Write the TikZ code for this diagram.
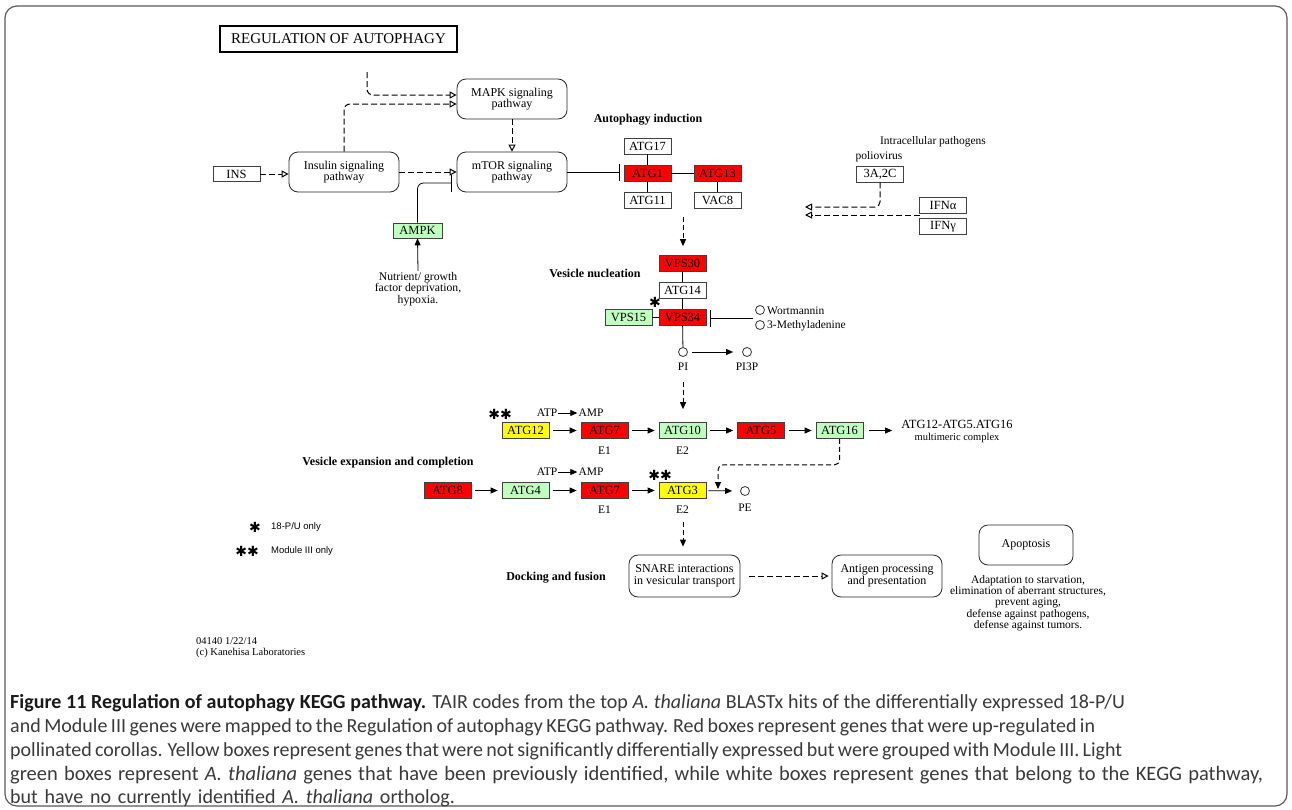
\documentclass[tikz,border=0pt]{standalone}
\usepackage{fontspec}
\setmainfont{Liberation Serif}
\newfontfamily\kegg{Liberation Serif}
\newfontfamily\capfont{Carlito}
\newfontfamily\legfont{Liberation Sans}
\newfontfamily\symfont{DejaVu Sans}
\usetikzlibrary{arrows.meta,calc}
\definecolor{kred}{HTML}{FF0000}
\definecolor{kyel}{HTML}{FFFF00}
\definecolor{kgrn}{HTML}{BFFFBF}
\definecolor{capgray}{HTML}{3A3A3A}
\definecolor{capdark}{HTML}{1A1A1A}
\tikzset{
  gene/.style={draw=black!75, line width=0.7pt, minimum width=47pt, minimum height=16pt, inner sep=0pt, font=\kegg\fontsize{12.5}{12}\selectfont},
  gred/.style={gene, fill=kred},
  gyel/.style={gene, fill=kyel},
  ggrn/.style={gene, fill=kgrn},
  gwht/.style={gene, fill=white},
  pbox/.style={draw=black!85, line width=0.8pt, rounded corners=9pt, minimum width=110pt, minimum height=40pt, inner sep=1pt, align=center, font=\kegg\fontsize{12}{11.5}\selectfont},
  ktext/.style={inner sep=1pt, font=\kegg\fontsize{11.5}{11.5}\selectfont},
  lab/.style={inner sep=1pt, font=\kegg\bfseries\fontsize{12}{12}\selectfont},
  act/.style={line width=0.8pt, -{Triangle[length=7pt,width=6pt]}},
  dact/.style={draw=black, line width=1pt, dash pattern=on 5pt off 3pt, -{Triangle[length=7pt,width=6pt]}},
  oarr/.style={draw=black, line width=1pt, dash pattern=on 6pt off 3pt, -{Triangle[open,length=7pt,width=7pt]}},
  inh/.style={line width=0.8pt, -{Bar[width=17pt,line width=0.9pt]}},
  circ/.style={circle, draw=black!80, line width=0.8pt, minimum size=9pt, inner sep=0pt},
  star/.style={inner sep=0pt, font=\symfont\fontsize{14}{14}\selectfont},
  capline/.style={anchor=base west, inner sep=0pt, text=capgray, font=\capfont\fontsize{20}{22}\selectfont}
}
\begin{document}
\begin{tikzpicture}[x=1pt,y=-1pt]
\useasboundingbox (0,0) rectangle (1292,809);
\fill[white] (0,0) rectangle (1292,809);
\draw[black!65, line width=1.2pt, rounded corners=12pt] (5,6) rectangle (1287,806);

% title
\node[draw, line width=2.4pt, minimum width=237pt, minimum height=26pt, inner sep=0pt, font=\kegg\fontsize{15}{15}\selectfont] (title) at (338.5,39) {REGULATION OF AUTOPHAGY};

% pathways
\node[pbox] (mapk) at (512,99) {MAPK signaling\\pathway};
\node[pbox] (insulin) at (344,172) {Insulin signaling\\pathway};
\node[pbox] (mtor) at (512,172) {mTOR signaling\\pathway};
\node[gwht, minimum height=15pt] (ins) at (236.5,174) {INS};
\coordinate (ext) at (367,72);

\draw[oarr] (ins.east) -- (ins.east -| insulin.west);
\draw[oarr] (insulin.east) -- (mtor.west);
\draw[oarr, rounded corners=6pt] (insulin.north) |- ($(mapk.west)+(0,5)$);
\draw[oarr, rounded corners=6pt] (ext) |- ($(mapk.west)+(0,-4)$);
\draw[oarr] (mapk.south) -- (mtor.north);

% AMPK
\node[ggrn, minimum width=49pt, minimum height=15pt] (ampk) at (417.5,230.5) {AMPK};
\draw[inh, rounded corners=6pt, shorten >=5pt] (ampk.north) |- ($(mtor.west)+(0,11)$);
\node[ktext, align=center, font=\kegg\fontsize{11.7}{11.5}\selectfont] (nutr) at (418,289) {Nutrient/ growth\\factor deprivation,\\hypoxia.};
\draw[act] (nutr.north) -- (ampk.south);

% labels
\node[lab] (lind) at (648,120) {Autophagy induction};
\node[lab] (lnuc) at (595,273) {Vesicle nucleation};
\node[lab] (lexp) at (388,463) {Vesicle expansion and completion};
\node[lab] (ldock) at (556,578) {Docking and fusion};

% induction complex
\node[gwht] (atg17) at (647.5,146) {ATG17};
\node[gred] (atg1) at (647.5,173.5) {ATG1};
\node[gred] (atg13) at (717.5,173.5) {ATG13};
\node[gwht] (atg11) at (647.5,200) {ATG11};
\node[gwht] (vac8) at (717.5,200) {VAC8};
\draw[line width=0.8pt] (atg17) -- (atg1) -- (atg11);
\draw[line width=0.8pt] (atg1) -- (atg13) -- (vac8);
\draw[inh, shorten >=4pt] (mtor.east) -- (mtor.east -| atg1.west);

% pathogens
\node[ktext] (lpath) at (933,142) {Intracellular pathogens};
\node[ktext] (lpolio) at (879,157) {poliovirus};
\node[gwht] (c3a) at (880,174) {3A,2C};
\node[gwht] (ifna) at (943,205) {IFNα};
\node[gwht] (ifng) at (943,226.5) {IFNγ};
\coordinate (pend1) at (805,207);
\coordinate (pend2) at (805,215);
\coordinate (ifnj) at (920,215);
\draw[oarr, rounded corners=5pt] (c3a.south) |- (pend1);
\draw[oarr] (ifnj) -- (pend2);

% nucleation
\coordinate (d1) at (683,217);
\node[gred] (vps30) at (682.5,263.5) {VPS30};
\node[gwht] (atg14) at (682.5,290) {ATG14};
\node[gred] (vps34) at (682.5,317.5) {VPS34};
\node[ggrn] (vps15) at (628.5,317.5) {VPS15};
\draw[dact, shorten >=9pt] (d1) -- (d1 |- vps30.north);
\draw[line width=0.8pt] (vps30) -- (atg14) -- (vps34);
\draw[line width=0.8pt] (vps15) -- (vps34);
\node[star] (ast1) at (655,302) {✱};

\node[circ] (wort) at (760,310) {};
\node[circ] (mad) at (760,325) {};
\node[ktext, anchor=west] (lwort) at (766,311) {Wortmannin};
\node[ktext, anchor=west] (lmad) at (766,326) {3-Methyladenine};
\coordinate (wj) at (753,318);
\draw[inh, shorten >=4pt] (wj) -- (wj -| vps34.east);

\node[circ] (pi) at (683,352) {};
\node[circ] (pi3p) at (747,352) {};
\node[ktext] (lpi) at (683,367) {PI};
\node[ktext] (lpi3p) at (747,367) {PI3P};
\draw[line width=0.8pt] (vps34) -- (pi);
\draw[act, shorten <=4pt, shorten >=9pt] (pi) -- (pi3p);
\coordinate (d2) at (683,382);

% row 1
\node[gyel] (atg12) at (525.5,430.5) {ATG12};
\node[gred] (atg7a) at (604.5,430.5) {ATG7};
\node[ggrn] (atg10) at (682.5,430.5) {ATG10};
\node[gred] (atg5) at (761,430.5) {ATG5};
\node[ggrn] (atg16) at (839.5,430.5) {ATG16};
\node[ktext, align=center, inner sep=0pt, font=\kegg\fontsize{12.5}{12}\selectfont] (cplx) at (957,431) {ATG12-ATG5.ATG16\\{\fontsize{10.5}{10}\selectfont multimeric complex}};
\draw[dact, shorten >=13pt] (d2) -- (d2 |- atg10.north);
\draw[act, shorten <=4pt, shorten >=4pt] (atg12) -- (atg7a);
\draw[act, shorten <=4pt, shorten >=4pt] (atg7a) -- (atg10);
\draw[act, shorten <=4pt, shorten >=4pt] (atg10) -- (atg5);
\draw[act, shorten <=4pt, shorten >=4pt] (atg5) -- (atg16);
\draw[act, shorten <=6pt, shorten >=9pt] (atg16) -- (atg16 -| cplx.west);
\node[ktext] (atp1) at (547,413) {ATP};
\node[ktext] (amp1) at (591,413) {AMP};
\draw[act] (atp1) -- (amp1);
\node[star] (ast2) at (500,414) {✱✱};
\node[ktext] (e1a) at (604.5,451) {E1};
\node[ktext] (e2a) at (682.5,451) {E2};

% row 2
\node[gred] (atg8) at (447.5,490.5) {ATG8};
\node[ggrn] (atg4) at (525.5,490.5) {ATG4};
\node[gred] (atg7b) at (604.5,490.5) {ATG7};
\node[gyel] (atg3) at (682.5,490.5) {ATG3};
\draw[act, shorten <=4pt, shorten >=4pt] (atg8) -- (atg4);
\draw[act, shorten <=4pt, shorten >=4pt] (atg4) -- (atg7b);
\draw[act, shorten <=4pt, shorten >=4pt] (atg7b) -- (atg3);
\node[ktext] (atp2) at (547,472) {ATP};
\node[ktext] (amp2) at (591,472) {AMP};
\draw[act] (atp2) -- (amp2);
\node[star] (ast3) at (660,475) {✱✱};
\node[ktext] (e1b) at (604.5,510) {E1};
\node[ktext] (e2b) at (682.5,510) {E2};
\node[circ] (pe) at (745,491) {};
\node[ktext] (lpe) at (745,508) {PE};
\draw[act, shorten <=2pt, shorten >=8pt] (atg3) -- (pe);
\coordinate (pej) at (718,489);
\draw[dact, rounded corners=5pt] (atg16.south) -- ++(0,26) -| (pej);

% docking
\coordinate (d3) at (683,522);
\node[pbox, minimum width=111pt, minimum height=42pt] (snare) at (684.5,576) {SNARE interactions\\in vesicular transport};
\node[pbox, minimum height=42pt] (antigen) at (887,576) {Antigen processing\\and presentation};
\node[pbox, minimum width=94pt] (apop) at (1026,545) {Apoptosis};
\node[ktext, align=center, font=\kegg\fontsize{11.5}{11.25}\selectfont] (apoptxt) at (1028,603) {Adaptation to starvation,\\elimination of aberrant structures,\\prevent aging,\\defense against pathogens,\\defense against tumors.};
\draw[dact, shorten >=8pt] (d3) -- (d3 |- snare.north);
\draw[oarr, shorten <=9pt, shorten >=3pt] (snare) -- (antigen);

% legend
\node[star] (lg1) at (255,527) {✱};
\node[anchor=west, inner sep=0pt, font=\legfont\fontsize{9.5}{10}\selectfont] (lg1t) at (271,527) {18-P/U only};
\node[star] (lg2) at (247,551) {✱✱};
\node[anchor=west, inner sep=0pt, font=\legfont\fontsize{9.5}{10}\selectfont] (lg2t) at (271,551) {Module III only};
\node[anchor=west, align=left, inner sep=0pt, font=\kegg\fontsize{10.5}{11}\selectfont] (cred) at (196,648) {04140 1/22/14\\(c) Kanehisa Laboratories};

% caption
\node[capline] (cap1) at (10,708) {\spaceskip=4.7pt\relax{\bfseries\color{capdark}Figure 11 Regulation of autophagy KEGG pathway.} TAIR codes from the top \textit{A. thaliana} BLASTx hits of the differentially expressed 18-P/U};
\node[capline] (cap2) at (10,732) {\spaceskip=3.5pt\relax and Module III genes were mapped to the Regulation of autophagy KEGG pathway. Red boxes represent genes that were up-regulated in};
\node[capline] (cap3) at (10,756) {\spaceskip=3.3pt\relax pollinated corollas. Yellow boxes represent genes that were not significantly differentially expressed but were grouped with Module III. Light};
\node[capline, font=\capfont\fontsize{20.5}{22}\selectfont] (cap4) at (10,780) {\spaceskip=6.2pt\relax green boxes represent \textit{A. thaliana} genes that have been previously identified, while white boxes represent genes that belong to the KEGG pathway,};
\node[capline] (cap5) at (10,803) {\spaceskip=6.8pt\relax but have no currently identified \textit{A. thaliana} ortholog.};
\end{tikzpicture}
\end{document}
